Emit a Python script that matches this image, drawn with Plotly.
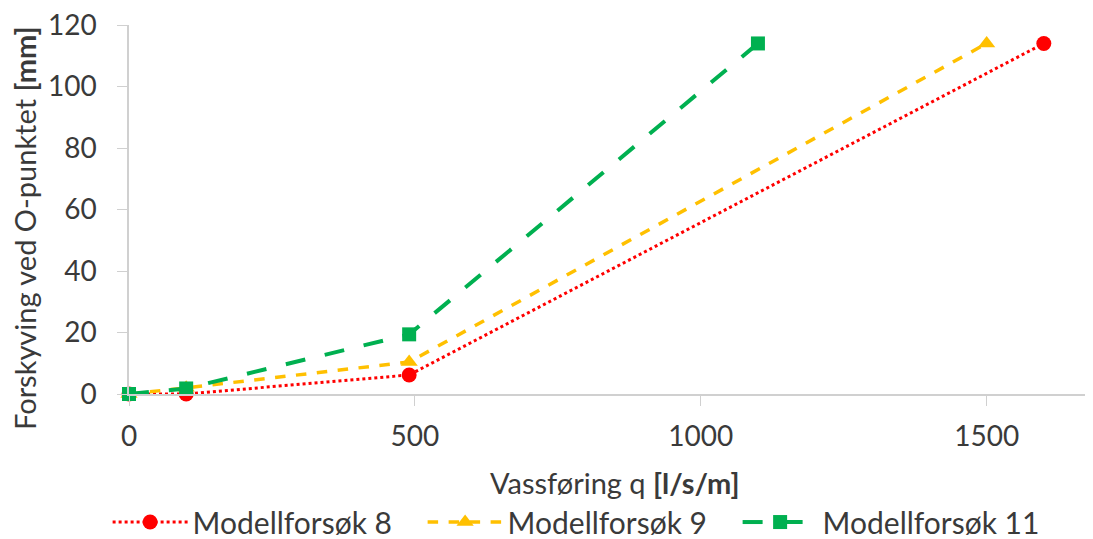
import plotly.graph_objects as go

x8 = [0, 100, 490, 1600]
y8 = [0, 0, 6.2, 114]
x9 = [0, 100, 490, 1500]
y9 = [0, 2, 10.4, 114]
x11 = [0, 100, 490, 1100]
y11 = [0, 1.8, 19.4, 114]

names = ["Modellforsøk 8", "Modellforsøk 9", "Modellforsøk 11"]
x_ticks = [0, 500, 1000, 1500]
y_ticks = [0, 20, 40, 60, 80, 100, 120]
x_title = "Vassføring q <b>[l/s/m]</b>"
y_title = "Forskyving ved O-punktet <b>[mm]</b>"

FONT = "Lato"
TXT = "#3a3a3a"
fig = go.Figure()
fig.add_trace(go.Scatter(x=x8, y=y8, name=names[0], mode="lines+markers",
                         line=dict(color="#FF0000", width=3, dash="dot"),
                         marker=dict(symbol="circle", size=15, color="#FF0000")))
fig.add_trace(go.Scatter(x=x9, y=y9, name=names[1], mode="lines+markers",
                         line=dict(color="#FFC000", width=3.5, dash="dash"),
                         marker=dict(symbol="triangle-up", size=15, color="#FFC000")))
fig.add_trace(go.Scatter(x=x11, y=y11, name=names[2], mode="lines+markers",
                         line=dict(color="#00B050", width=4, dash="longdash"),
                         marker=dict(symbol="square", size=14, color="#00B050")))

# the page body has an 8px margin, so margins are offset by 8px
fig.update_layout(
    width=1093, height=539,
    paper_bgcolor="white", plot_bgcolor="white",
    margin=dict(l=121, r=0, t=17, b=153, autoexpand=False),
    font=dict(family=FONT, size=28, color=TXT),
    showlegend=True,
    legend=dict(orientation="h", x=-0.022, xanchor="left", y=-0.347, yanchor="middle",
                font=dict(size=30, color=TXT), itemwidth=75,
                traceorder="normal", entrywidth=225),
    annotations=[
        dict(text=x_title, xref="paper", yref="paper", x=0.5, y=-0.241,
             xanchor="center", yanchor="middle", showarrow=False,
             font=dict(size=29, color=TXT)),
        dict(text=y_title, xref="paper", yref="paper", x=-0.107, y=0.45,
             xanchor="center", yanchor="middle", showarrow=False, textangle=-90,
             font=dict(size=29, color=TXT)),
    ],
)
fig.update_xaxes(range=[0, 1700], tickvals=x_ticks, showgrid=False, zeroline=False,
                 showline=True, linecolor="#D0D0D0", linewidth=1.5, automargin=False,
                 ticks="outside", ticklen=10, tickcolor="#D0D0D0", ticklabelstandoff=7,
                 ticklabeloverflow="allow",
                 tickfont=dict(size=28, color=TXT))
fig.update_yaxes(range=[0, 120], tickvals=y_ticks, showgrid=False, zeroline=False,
                 showline=True, linecolor="#D0D0D0", linewidth=1.5, automargin=False,
                 ticks="outside", ticklen=10, tickcolor="#D0D0D0", ticklabelstandoff=15,
                 ticklabeloverflow="allow",
                 tickfont=dict(size=28, color=TXT))
fig.update_traces(cliponaxis=False)
fig.write_html("out.html")
